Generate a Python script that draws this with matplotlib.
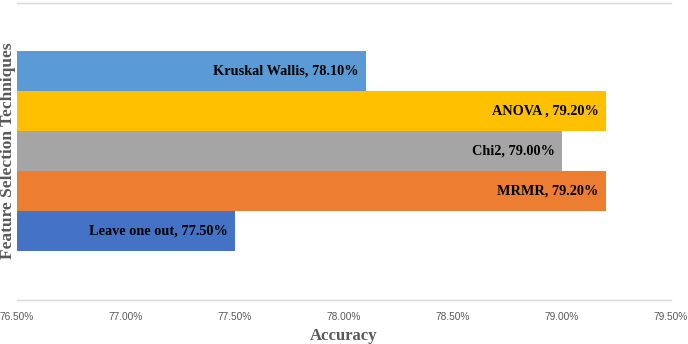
import matplotlib.pyplot as plt

# dati (dal basso verso l'alto)
techniques = ["Leave one out", "MRMR", "Chi2", "ANOVA ", "Kruskal Wallis"]
accuracy = [77.50, 79.20, 79.00, 79.20, 78.10]
colors = ["#4472C4", "#ED7D31", "#A5A5A5", "#FFC000", "#5B9BD5"]
x_ticks = [76.5, 77.0, 77.5, 78.0, 78.5, 79.0, 79.5]

fig = plt.figure(figsize=(6.88, 3.44), dpi=100)
ax = fig.add_axes([17 / 688, 1 - 300 / 344, 654 / 688, 297 / 344])

y = list(range(len(techniques)))
ax.barh(y, [a - 76.5 for a in accuracy], left=76.5, height=1.0, color=colors)

# etichette dentro le barre
for yi, name, val in zip(y, techniques, accuracy):
    ax.annotate(f"{name}, {val:.2f}%", xy=(val, yi), xytext=(-5, 0),
                textcoords="offset points", ha="right", va="center",
                fontsize=10.3, fontweight="bold", family="Liberation Serif",
                color="black")

ax.set_xlim(76.5, 79.5)
ax.set_ylim(-1.72, 5.7)
ax.set_xticks(x_ticks)
ax.set_xticklabels([f"{t:.2f}%" for t in x_ticks], fontsize=7.3,
                   color="#595959", family="Liberation Sans")
ax.set_yticks([])
ax.tick_params(axis="x", length=0, pad=9)

for side in ["left", "right"]:
    ax.spines[side].set_visible(False)
for side in ["top", "bottom"]:
    ax.spines[side].set_color("#D9D9D9")
    ax.spines[side].set_linewidth(1)

ax.set_xlabel("Accuracy", fontsize=12, fontweight="bold",
              family="Liberation Serif", color="#595959", labelpad=4)

# etichetta asse y posizionata a mano per non uscire dal bordo
fig.text(8 / 688, 1 - 151 / 344, "Feature Selection Techniques",
         rotation=90, ha="center", va="center", fontsize=12.5,
         fontweight="bold", family="Liberation Serif", color="#595959")

fig.savefig("out.png", dpi=100)
